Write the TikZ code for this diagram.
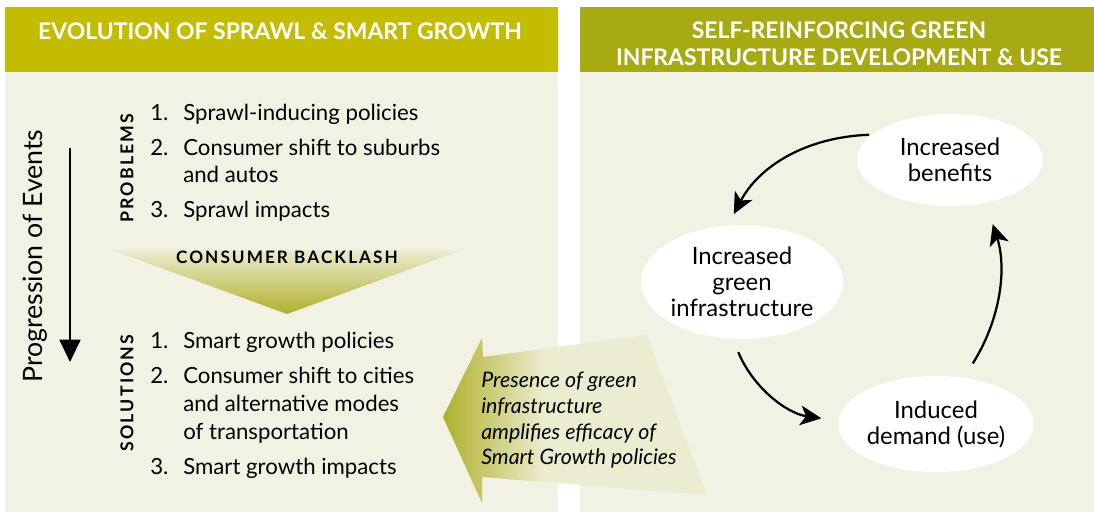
\documentclass[tikz,border=0pt]{standalone}
\usepackage{fontspec}
\setmainfont{Lato}
\usetikzlibrary{arrows.meta,shapes.geometric}
\definecolor{hdrL}{RGB}{196,188,0}
\definecolor{hdrR}{RGB}{168,170,20}
\definecolor{panel}{RGB}{242,242,228}
\definecolor{oliveD}{RGB}{176,176,44}
\definecolor{oliveL}{RGB}{236,236,208}
\begin{document}
\begin{tikzpicture}[x=0.025cm, y=-0.025cm,
	hdr/.style={text=white, font=\fontsize{16.3}{19}\selectfont\bfseries, align=center},
	item/.style={anchor=base west, inner sep=0pt, font=\fontsize{15.8}{20}\selectfont},
	side/.style={rotate=90, inner sep=0pt, font=\fontsize{12.6}{14}\selectfont\bfseries\addfontfeatures{LetterSpace=12}},
	ell/.style={ellipse, fill=white, inner sep=0pt, align=center, font=\fontsize{17}{18.5}\selectfont},
	cyc/.style={line width=1.6pt, -{Stealth[length=15pt, width=14pt, inset=4pt]}}]
			%%%%% START %%%%%
			\useasboundingbox (0, 0) rectangle (1094, 512);
			
			% panels
			\fill[panel] (5, 72) rectangle (558, 512);
			\fill[hdrL] (5, 7) rectangle (558, 72);
			\fill[panel] (580, 72) rectangle (1094, 512);
			\fill[hdrR] (580, 7) rectangle (1094, 72);
			
			\node[hdr] (titleL) at (280, 31) {EVOLUTION OF SPRAWL \& SMART GROWTH};
			\node[hdr] (titleR) at (839, 44) {SELF-REINFORCING GREEN\\INFRASTRUCTURE DEVELOPMENT \& USE};
			
			% progression
			\node[rotate=90, font=\fontsize{19}{22}\selectfont] (prog) at (35, 256) {Progression of Events};
			\coordinate (progA) at (70, 148);
			\coordinate (progB) at (70, 362);
			\draw[line width=1.6pt, -{Triangle[length=16pt, width=15pt]}] (progA) -- (progB);
			
			\node[side] (prob) at (127, 168) {PROBLEMS};
			\node[side] (sol) at (127, 393) {SOLUTIONS};
			
			% problems
			\node[item] (n1) at (150, 121) {1.};
			\node[item] (p1) at (183, 121) {Sprawl-inducing policies};
			\node[item] (n2) at (150, 155) {2.};
			\node[item] (p2) at (183, 155) {Consumer shift to suburbs};
			\node[item] (p2b) at (183, 183) {and autos};
			\node[item] (n3) at (150, 218) {3.};
			\node[item] (p3) at (183, 218) {Sprawl impacts};
			
			% backlash
			\shade[top color=oliveL, bottom color=oliveD] (112, 250) -- (462, 250) -- (287, 314) -- cycle;
			\node[font=\fontsize{12.2}{14}\selectfont\bfseries\addfontfeatures{LetterSpace=12}] (back) at (287, 257) {CONSUMER BACKLASH};
			
			% solutions
			\node[item] (m1) at (150, 348) {1.};
			\node[item] (s1) at (183, 348) {Smart growth policies};
			\node[item] (m2) at (150, 383) {2.};
			\node[item] (s2) at (183, 383) {Consumer shift to cities};
			\node[item] (s2b) at (183, 411) {and alternative modes};
			\node[item] (s2c) at (183, 439) {of transportation};
			\node[item] (m3) at (150, 474) {3.};
			\node[item] (s3) at (183, 474) {Smart growth impacts};
			
			% big arrow
			\fill[oliveL] (443, 417) -- (482, 338) -- (483, 357) -- (647, 335) -- (707, 495) -- (482, 477) -- (482, 503) -- cycle;
			\begin{scope}
				\clip (443, 417) -- (482, 338) -- (483, 357) -- (647, 335) -- (707, 495) -- (482, 477) -- (482, 503) -- cycle;
				\shade[left color=oliveD, right color=oliveL] (443, 330) rectangle (545, 505);
			\end{scope}
			\node[anchor=north west, align=left, inner sep=0pt, font=\fontsize{15.2}{18.2}\selectfont\itshape] (amp) at (481, 372) {Presence of green\\infrastructure\\amplifies efficacy of\\Smart Growth policies};
			
			% cycle
			\node[ell, minimum width=4.65cm, minimum height=2.3cm] (ben) at (950, 160) {Increased\\benefits};
			\node[ell, minimum width=4.65cm, minimum height=2.85cm] (grn) at (742, 282) {Increased\\green\\infrastructure};
			\node[ell, minimum width=4.68cm, minimum height=2.4cm] (dem) at (936, 424) {Induced\\demand (use)};
			
			\draw[cyc, shorten <=2pt, shorten >=9pt] (ben.162) to[bend right=30] (grn.104);
			\draw[cyc, shorten <=10pt, shorten >=12pt] (grn.261) to[bend right=30] (dem.178);
			\draw[cyc, shorten <=12pt, shorten >=16pt] (dem.59) to[bend right=25] (ben.310);
			
			%%%%% END %%%%%
\end{tikzpicture}
\end{document}
